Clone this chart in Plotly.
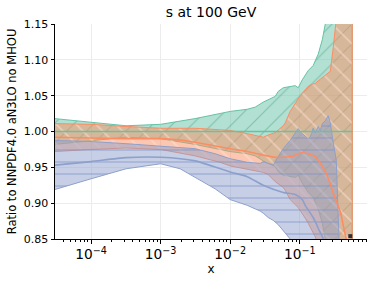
import plotly.graph_objects as go

# ---------------- data ----------------
# Green: NNPDF4.0 aN3LO no MHOU (reference, ratio = 1)
x_green = [3.0e-5, 1e-4, 3.19e-4, 1e-3, 3.13e-3, 1e-2, 0.0176, 0.0229, 0.0299, 0.0444,
           0.0491, 0.0579, 0.0861, 0.0951, 0.1086, 0.1324, 0.156, 0.1845, 0.211, 0.233,
           0.257, 0.569]
green_up = [1.018, 1.013, 1.008, 1.010, 1.018, 1.028, 1.031, 1.034, 1.041, 1.049,
            1.056, 1.061, 1.064, 1.061, 1.072, 1.085, 1.092, 1.108, 1.128, 1.150,
            1.180, 1.300]
green_lo = [0.982, 0.987, 0.992, 0.990, 0.982, 0.972, 0.969, 0.966, 0.959, 0.951,
            0.944, 0.939, 0.936, 0.939, 0.928, 0.915, 0.908, 0.892, 0.872, 0.850,
            0.820, 0.700]
x_green_c = [3.0e-5, 0.569]
green_c = [1.0, 1.0]

# Orange
x_orange = [3.0e-5, 1e-4, 3.19e-4, 1e-3, 3.13e-3, 7.18e-3, 1e-2, 0.0176, 0.0229, 0.0299,
            0.0352, 0.0377, 0.0444, 0.0579, 0.0618, 0.0729, 0.0861, 0.0951, 0.1016, 0.120,
            0.1324, 0.151, 0.167, 0.197, 0.233, 0.275, 0.303, 0.335, 0.347, 0.569]
orange_up = [1.011, 1.010, 1.007, 1.0045, 1.0045, 1.003, 1.0015, 0.997, 0.994, 0.992,
             0.995, 0.996, 0.9985, 1.008, 1.012, 1.028, 1.040, 1.046, 1.050, 1.058,
             1.063, 1.066, 1.067, 1.073, 1.079, 1.084, 1.117, 1.150, 1.170, 1.200]
orange_lo = [0.972, 0.975, 0.977, 0.975, 0.966, 0.957, 0.952, 0.948, 0.945, 0.943,
             0.940, 0.937, 0.930, 0.922, 0.918, 0.905, 0.898, 0.894, 0.889, 0.879,
             0.872, 0.862, 0.853, 0.835, 0.820, 0.800, 0.790, 0.780, 0.780, 0.780]
x_orange_c = [3.0e-5, 1e-4, 3.19e-4, 1e-3, 1.91e-3, 3.13e-3, 1e-2, 0.0176, 0.0299, 0.0444,
              0.0579, 0.0729, 0.0861, 0.1016, 0.120, 0.1416, 0.167, 0.197, 0.233, 0.275,
              0.303, 0.383, 0.437, 0.465, 0.52]
orange_c = [0.992, 0.991, 0.990, 0.990, 0.988, 0.985, 0.976, 0.972, 0.967, 0.964,
            0.964, 0.965, 0.967, 0.970, 0.970, 0.968, 0.965, 0.956, 0.944, 0.927,
            0.914, 0.888, 0.862, 0.850, 0.830]

# Blue
x_blue = [3.0e-5, 1e-4, 3.19e-4, 1e-3, 1.91e-3, 3.13e-3, 6.08e-3, 1e-2, 0.0176, 0.0229,
          0.0270, 0.0299, 0.0352, 0.0416, 0.0491, 0.0579, 0.0729, 0.0861, 0.0951, 0.1016,
          0.1086, 0.1324, 0.1416, 0.151, 0.156, 0.167, 0.1845, 0.197, 0.211, 0.233,
          0.257, 0.275, 0.284, 0.303, 0.335, 0.383]
blue_up = [0.9875, 0.986, 0.983, 0.980, 0.978, 0.976, 0.969, 0.962, 0.957, 0.956,
           0.9555, 0.958, 0.955, 0.953, 0.965, 0.976, 0.9875, 0.997, 1.004, 1.000,
           0.997, 0.990, 0.993, 0.999, 1.005, 0.998, 1.007, 1.001, 1.011, 1.015,
           1.022, 1.012, 1.000, 0.985, 0.960, 0.850]
blue_lo = [0.919, 0.934, 0.948, 0.955, 0.948, 0.936, 0.920, 0.905, 0.897, 0.892,
           0.889, 0.886, 0.880, 0.876, 0.870, 0.862, 0.850, 0.840, 0.830, 0.830,
           0.820, 0.800, 0.800, 0.800, 0.800, 0.800, 0.800, 0.800, 0.800, 0.800,
           0.800, 0.800, 0.800, 0.800, 0.800, 0.800]
x_blue_c = [3.0e-5, 1e-4, 3.19e-4, 1e-3, 3.13e-3, 1e-2, 0.0176, 0.0299, 0.0579, 0.0861,
            0.1086, 0.120, 0.156, 0.1845, 0.218, 0.257]
blue_c = [0.953, 0.958, 0.9635, 0.964, 0.959, 0.9435, 0.937, 0.925, 0.915, 0.912,
          0.905, 0.897, 0.880, 0.865, 0.850, 0.830]

edge_x = [0.533]
edge_y = [0.854]

GREEN = "#66c2a5"
ORANGE = "#fc8d62"
BLUE = "#8da0cb"

fig = go.Figure()


def band(x, lo, up, color, fill, pattern):
    fig.add_trace(go.Scatter(
        x=list(x) + list(x)[::-1], y=list(up) + list(lo)[::-1],
        mode="lines", fill="toself", fillcolor=fill,
        line=dict(color=color, width=1), fillpattern=pattern,
        hoverinfo="skip", showlegend=False))


band(x_green, green_lo, green_up, GREEN, "rgba(102,194,165,0.5)",
     dict(shape="/", fgcolor="rgba(70,155,125,0.9)", size=14, solidity=0.08, fillmode="overlay"))
band(x_orange, orange_lo, orange_up, ORANGE, "rgba(252,141,98,0.5)",
     dict(shape="\\", fgcolor="rgba(255,228,215,1)", size=14, solidity=0.12, fillmode="overlay"))
band(x_blue, blue_lo, blue_up, BLUE, "rgba(141,160,203,0.5)",
     dict(shape="-", fgcolor="rgba(125,145,198,1)", size=12, solidity=0.12, fillmode="overlay"))

fig.add_trace(go.Scatter(x=x_green_c, y=green_c, mode="lines",
                         line=dict(color=GREEN, width=1.6), showlegend=False))
fig.add_trace(go.Scatter(x=x_orange_c, y=orange_c, mode="lines", line_shape="spline",
                         line=dict(color=ORANGE, width=1.6, smoothing=0.6), showlegend=False))
fig.add_trace(go.Scatter(x=x_blue_c, y=blue_c, mode="lines", line_shape="spline",
                         line=dict(color=BLUE, width=1.6, smoothing=0.6), showlegend=False))
fig.add_trace(go.Scatter(x=edge_x, y=edge_y, mode="markers",
                         marker=dict(symbol="square", size=4, color="#333333"),
                         showlegend=False))

fig.update_layout(
    width=374, height=281,
    margin=dict(l=55, r=7, t=24, b=42),
    paper_bgcolor="white", plot_bgcolor="white",
    font=dict(family="DejaVu Sans", size=11, color="black"),
    showlegend=False,
    title=dict(text="s at 100 GeV", x=0.5, xref="paper", xanchor="center",
               y=1 - 12.5 / 281, yref="container", yanchor="middle",
               font=dict(size=14, family="DejaVu Sans", color="black")),
)
fig.update_xaxes(
    type="log", range=[-4.518, -0.033], dtick=1, exponentformat="power",
    showline=True, linecolor="black", linewidth=1, mirror=False, automargin=False,
    ticks="outside", ticklen=3.5, tickwidth=1, tickcolor="black",
    showgrid=True, gridcolor="#ececec", gridwidth=0.8, zeroline=False,
    minor=dict(ticks="outside", ticklen=2, tickwidth=0.8, tickcolor="black",
               dtick="D1", showgrid=False),
    title=dict(text="x", standoff=3, font=dict(size=12, family="DejaVu Sans")),
    tickfont=dict(size=11, family="DejaVu Sans"),
)
fig.update_yaxes(
    range=[0.85, 1.15], dtick=0.05, tick0=0.85, tickformat=".2f",
    showline=True, linecolor="black", linewidth=1, mirror=False, automargin=False,
    ticks="outside", ticklen=3.5, tickwidth=1, tickcolor="black",
    showgrid=True, gridcolor="#ececec", gridwidth=0.8, zeroline=False,
    title=dict(text="Ratio to NNPDF4.0 aN3LO no MHOU", standoff=4,
               font=dict(size=11.5, family="DejaVu Sans")),
    tickfont=dict(size=11, family="DejaVu Sans"),
)

fig.write_html("out.html",
               config={"displayModeBar": False},
               post_script="document.body.style.margin='0';document.body.style.padding='0';")
